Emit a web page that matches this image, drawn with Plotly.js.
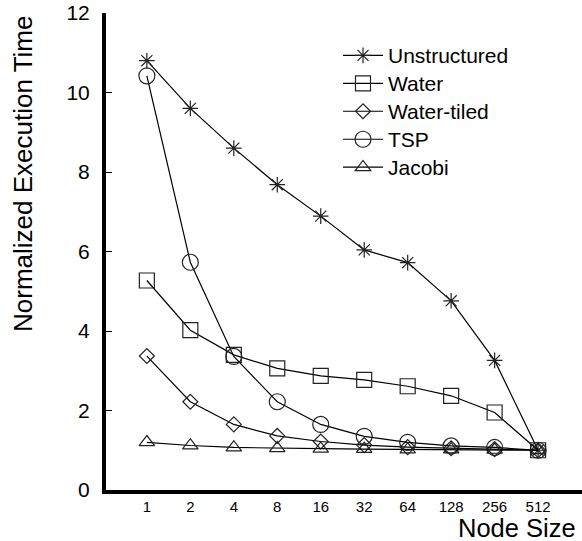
<!DOCTYPE html>
<html>
<head>
<meta charset="utf-8">
<script src="https://cdn.plot.ly/plotly-3.0.1.min.js"></script>
<style>html,body{margin:0;padding:0;background:#fff;}#chart{width:582px;height:541px;}</style>
</head>
<body>
<div id="chart"></div>
<script>
var nodeSizes = ['1','2','4','8','16','32','64','128','256','512'];
var seriesNames = ['Unstructured', 'Water', 'Water-tiled', 'TSP', 'Jacobi'];
var unstructured = [10.8, 9.6, 8.6, 7.68, 6.89, 6.04, 5.72, 4.76, 3.26, 1.0];
var water = [5.27, 4.02, 3.4, 3.06, 2.87, 2.77, 2.61, 2.37, 1.95, 1.0];
var waterTiled = [3.37, 2.22, 1.65, 1.36, 1.22, 1.13, 1.08, 1.05, 1.03, 1.0];
var tsp = [10.42, 5.73, 3.36, 2.22, 1.65, 1.35, 1.2, 1.11, 1.07, 1.0];
var jacobi = [1.2, 1.12, 1.07, 1.05, 1.04, 1.03, 1.02, 1.02, 1.01, 1.0];

var FONT = 'Liberation Sans, Arial, Helvetica, sans-serif';

function mk(name, y, symbol, size) {
  return {
    type: 'scatter', mode: 'lines+markers',
    name: '<span style="font-size:21px">' + name + '</span>',
    x: nodeSizes, y: y, legendgroup: name,
    line: {color: '#000', width: 1.2},
    marker: {symbol: symbol, size: size, color: '#222', line: {color: '#222', width: 1.2}}
  };
}

var data = [
  mk(seriesNames[0], unstructured, 'asterisk-open', 13),
  mk(seriesNames[1], water, 'square-open', 15),
  mk(seriesNames[2], waterTiled, 'diamond-open', 11.5),
  mk(seriesNames[3], tsp, 'circle-open', 16),
  mk(seriesNames[4], jacobi, 'triangle-up-open', 13.5)
];

var layout = {
  width: 582, height: 541,
  margin: {l: 106, r: 0, t: 13, b: 51},
  paper_bgcolor: '#fff', plot_bgcolor: '#fff',
  font: {family: FONT, color: '#000'},
  showlegend: true,
  legend: {
    x: (338 - 106) / 476, y: 0.951, xanchor: 'left', yanchor: 'top',
    font: {family: FONT, size: 19.2, color: '#000'},
    bgcolor: 'rgba(0,0,0,0)', borderwidth: 0, tracegroupgap: 0, itemwidth: 40
  },
  xaxis: {
    type: 'category', range: [-0.94, 10.01],
    showgrid: false, zeroline: false,
    showline: true, linecolor: '#000', linewidth: 4,
    ticks: '', tickfont: {family: FONT, size: 15, color: '#000'},
    fixedrange: true
  },
  yaxis: {
    range: [0, 12], dtick: 2, tick0: 0,
    showgrid: false, zeroline: false,
    showline: true, linecolor: '#000', linewidth: 4,
    ticks: 'inside', ticklen: 6, tickwidth: 1, tickcolor: '#000',
    ticklabelstandoff: 8,
    tickfont: {family: FONT, size: 21, color: '#000'},
    fixedrange: true
  },
  annotations: [
    {text: 'Normalized Execution Time', xref: 'paper', yref: 'paper',
     x: -0.1744, y: 0.6625, xanchor: 'center', yanchor: 'middle', textangle: -90,
     showarrow: false, font: {family: FONT, size: 26, color: '#000'}},
    {text: 'Node Size', xref: 'paper', yref: 'paper',
     x: (578 - 106) / 476, y: -0.0797, xanchor: 'right', yanchor: 'middle',
     showarrow: false, font: {family: FONT, size: 25.5, color: '#000'}}
  ]
};

Plotly.newPlot('chart', data, layout, {displayModeBar: false, staticPlot: true});
</script>
</body>
</html>
